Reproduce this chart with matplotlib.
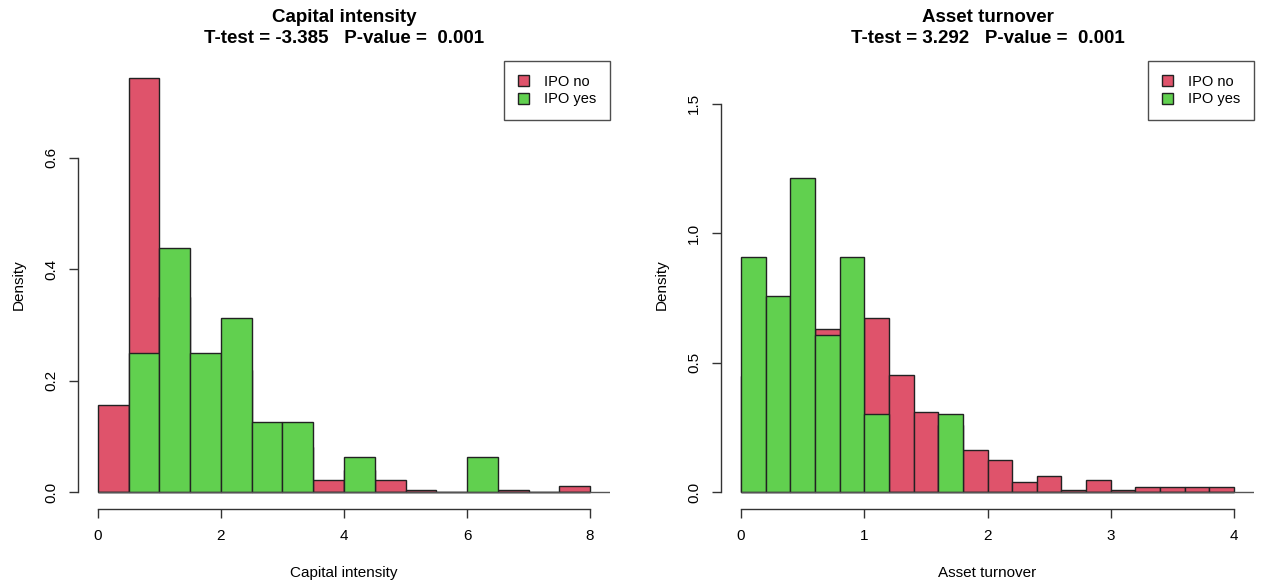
import numpy as np
import matplotlib
matplotlib.use("Agg")
import matplotlib.pyplot as plt
from matplotlib.patches import Patch

plt.rcParams['font.family'] = ['Liberation Sans', 'DejaVu Sans']

# Capital intensity histogram (density), bin width 0.5
cap_edges = [0, 0.5, 1, 1.5, 2, 2.5, 3, 3.5, 4, 4.5, 5, 5.5, 6, 6.5, 7, 7.5, 8]
cap_no = [0.157, 0.743, 0.35, 0.23, 0.22, 0.10, 0.08, 0.021,
          0.04, 0.021, 0.004, 0.0, 0.0, 0.004, 0.0, 0.0105]
cap_yes = [0.0, 0.25, 0.4375, 0.25, 0.3125, 0.125, 0.125, 0.0,
           0.0625, 0.0, 0.0, 0.0, 0.0625, 0.0, 0.0, 0.0]

# Asset turnover histogram (density), bin width 0.2
turn_edges = [0, 0.2, 0.4, 0.6, 0.8, 1.0, 1.2, 1.4, 1.6, 1.8, 2.0,
              2.2, 2.4, 2.6, 2.8, 3.0, 3.2, 3.4, 3.6, 3.8, 4.0]
turn_no = [0.45, 0.55, 0.6, 0.63, 0.55, 0.671, 0.452, 0.309, 0.26, 0.1635,
           0.124, 0.0387, 0.062, 0.0077, 0.049, 0.0077, 0.0193, 0.0193, 0.0193, 0.0193]
turn_yes = [0.909, 0.758, 1.212, 0.606, 0.909, 0.303, 0.0, 0.0, 0.303, 0.0,
            0.0, 0.0, 0.0, 0.0, 0.0, 0.0, 0.0, 0.0, 0.0, 0.0]

titles = ["Capital intensity", "Asset turnover"]
tests = ["T-test = -3.385   P-value =  0.001", "T-test = 3.292   P-value =  0.001"]
legend_labels = ["IPO no", "IPO yes"]

RED = "#DF536B"
GREEN = "#61D04F"
EDGE = "#222222"
AXC = "#333333"

W, H = 1261, 587
fig = plt.figure(figsize=(W / 100, H / 100), dpi=100)

panels = [
    dict(edges=cap_edges, no=cap_no, yes=cap_yes, xlim=(-0.32, 8.32), ylim=(-0.0305, 0.774),
         xticks=[0, 2, 4, 6, 8], yticks=[0.0, 0.2, 0.4, 0.6], yfmt="%.1f",
         rect=[78.3 / W, (H - 509) / H, 531.4 / W, 448 / H]),
    dict(edges=turn_edges, no=turn_no, yes=turn_yes, xlim=(-0.16, 4.16), ylim=(-0.064, 1.664),
         xticks=[0, 1, 2, 3, 4], yticks=[0.0, 0.5, 1.0, 1.5], yfmt="%.1f",
         rect=[721.3 / W, (H - 509) / H, 532.4 / W, 448 / H]),
]

for i, p in enumerate(panels):
    ax = fig.add_axes(p["rect"])
    edges = np.array(p["edges"])
    widths = np.diff(edges)
    ax.bar(edges[:-1], p["no"], width=widths, align="edge", color=RED,
           edgecolor=EDGE, linewidth=1.0)
    ax.bar(edges[:-1], p["yes"], width=widths, align="edge", color=GREEN,
           edgecolor=EDGE, linewidth=1.0)
    ax.hlines(0, edges[0], p["xlim"][1], color="#555555", linewidth=1.0)

    ax.set_xlim(*p["xlim"])
    ax.set_ylim(*p["ylim"])
    for s in ["top", "right"]:
        ax.spines[s].set_visible(False)
    ax.spines["left"].set_bounds(p["yticks"][0], p["yticks"][-1])
    ax.spines["bottom"].set_bounds(p["xticks"][0], p["xticks"][-1])
    for s in ["left", "bottom"]:
        ax.spines[s].set_color(AXC)
        ax.spines[s].set_linewidth(1.0)
    ax.set_xticks(p["xticks"])
    ax.set_xticklabels([str(t) for t in p["xticks"]])
    ax.set_yticks(p["yticks"])
    ax.set_yticklabels([p["yfmt"] % t for t in p["yticks"]], rotation=90, va="center")
    ax.tick_params(axis="both", direction="out", length=6.5, width=1.0, color=AXC,
                   labelsize=11, pad=8)

    ax.annotate(titles[i], xy=(0.5, 1), xycoords="axes fraction", xytext=(0, 31.5),
                textcoords="offset points", ha="center", va="center",
                fontsize=13.5, fontweight="bold")
    ax.annotate(tests[i], xy=(0.5, 1), xycoords="axes fraction", xytext=(0, 16),
                textcoords="offset points", ha="center", va="center",
                fontsize=13.5, fontweight="bold")
    ax.annotate(titles[i], xy=(0.5, 0), xycoords="axes fraction", xytext=(0, -46),
                textcoords="offset points", ha="center", va="center", fontsize=11)
    ax.annotate("Density", xy=(0, 0.5), xycoords="axes fraction", xytext=(-43, 0),
                textcoords="offset points", ha="center", va="center", fontsize=11,
                rotation=90)

    handles = [Patch(facecolor=RED, edgecolor=EDGE), Patch(facecolor=GREEN, edgecolor=EDGE)]
    leg = ax.legend(handles, legend_labels, loc="upper right", bbox_to_anchor=(1, 1),
                    borderaxespad=0, fancybox=False, fontsize=10.5, handlelength=0.75,
                    handleheight=0.75, handletextpad=1.0, borderpad=0.95, labelspacing=0.25)
    leg.get_frame().set_edgecolor("#222222")
    leg.get_frame().set_linewidth(1.0)

fig.savefig("out.png", dpi=100)
